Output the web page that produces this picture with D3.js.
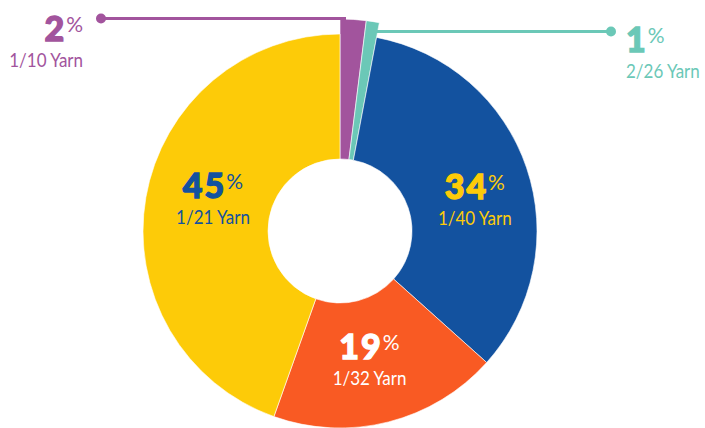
<!DOCTYPE html>
<html>
<head>
<meta charset="utf-8">
<script src="https://cdn.jsdelivr.net/npm/d3@7"></script>
<style>
  html, body { margin: 0; padding: 0; background: #fff; }
  svg { display: block; }
  text { font-family: Lato, "Open Sans", sans-serif; }
</style>
</head>
<body>
<svg id="chart" width="705" height="428"></svg>
<script>
// Yarn count share of production
const categories = ["1/10 Yarn", "2/26 Yarn", "1/40 Yarn", "1/32 Yarn", "1/21 Yarn"];
const shares = [2, 1, 34, 19, 45];
const sliceColors = ["#A2549D", "#6BC8B7", "#13529F", "#F95A23", "#FDCB08"];
const labelColors = ["#A2549D", "#6BC8B7", "#FDCB08", "#FFFFFF", "#13529F"];

const svg = d3.select("#chart");
const cx = 340, cy = 231;
const innerR = 72, outerR = 197, smallR = 212;

const data = categories.map((c, i) => ({ name: c, value: shares[i], color: sliceColors[i], text: labelColors[i], small: shares[i] < 5 }));

const pie = d3.pie().sort(null).value(d => d.value);
const arcs = pie(data);

const arc = d3.arc()
  .innerRadius(innerR)
  .outerRadius(d => d.data.small ? smallR : outerR);
const labelArc = d3.arc().innerRadius(136).outerRadius(136);

// nudges applied to the label centroids so the blocks sit well inside each slice
const labelNudge = { "1/40 Yarn": [6, 12], "1/32 Yarn": [-4, -4], "1/21 Yarn": [7, -10] };

const g = svg.append("g").attr("transform", `translate(${cx},${cy})`);

// leader lines for the thin slices (drawn beneath the slices)
const callouts = svg.append("g");
const purple = arcs[0], teal = arcs[1];
const purpleY = cy - smallR - 0.5;
callouts.append("line")
  .attr("x1", 101).attr("y1", purpleY).attr("x2", cx + 6).attr("y2", purpleY)
  .attr("stroke", purple.data.color).attr("stroke-width", 3);
callouts.append("circle").attr("cx", 101).attr("cy", purpleY).attr("r", 5).attr("fill", purple.data.color);

const tealY = 31.5;
callouts.append("line")
  .attr("x1", cx + 30).attr("y1", tealY).attr("x2", 611).attr("y2", tealY)
  .attr("stroke", teal.data.color).attr("stroke-width", 3);
callouts.append("circle").attr("cx", 611).attr("cy", tealY).attr("r", 5).attr("fill", teal.data.color);

// slices
g.selectAll("path.slice")
  .data(arcs)
  .join("path")
  .attr("class", "slice")
  .attr("d", arc)
  .attr("fill", d => d.data.color)
  .attr("stroke", "#fff")
  .attr("stroke-width", 0.6);

// value + name label block
function labelBlock(sel, value, name, color, anchor) {
  const big = sel.append("text")
    .attr("text-anchor", anchor)
    .attr("fill", color)
    .attr("y", 0);
  // heavy figures: bold face thickened with a thin stroke of the same colour
  big.append("tspan")
    .attr("font-size", 34).attr("font-weight", 900)
    .attr("letter-spacing", 2)
    .attr("stroke", color).attr("stroke-width", 1.3)
    .text(value);
  big.append("tspan")
    .attr("font-size", 21).attr("font-weight", 400)
    .attr("dy", -9)
    .text("%");
  // the yarn name is set tall and slightly condensed
  sel.append("text")
    .attr("text-anchor", anchor)
    .attr("fill", color)
    .attr("transform", "translate(0,26) scale(0.85,1)")
    .attr("font-size", 20)
    .text(name);
}

// labels inside the large slices
arcs.filter(d => !d.data.small).forEach(d => {
  const [x, y] = labelArc.centroid(d);
  const [nx, ny] = labelNudge[d.data.name] || [0, 0];
  const lg = g.append("g").attr("transform", `translate(${x + nx},${y + ny})`);
  labelBlock(lg, d.data.value, d.data.name, d.data.text, "middle");
});

// labels for the thin slices, at the ends of their leader lines
labelBlock(svg.append("g").attr("transform", "translate(83,41)"),
  purple.data.value, purple.data.name, purple.data.text, "end");
labelBlock(svg.append("g").attr("transform", "translate(626,52)"),
  teal.data.value, teal.data.name, teal.data.text, "start");
</script>
</body>
</html>
